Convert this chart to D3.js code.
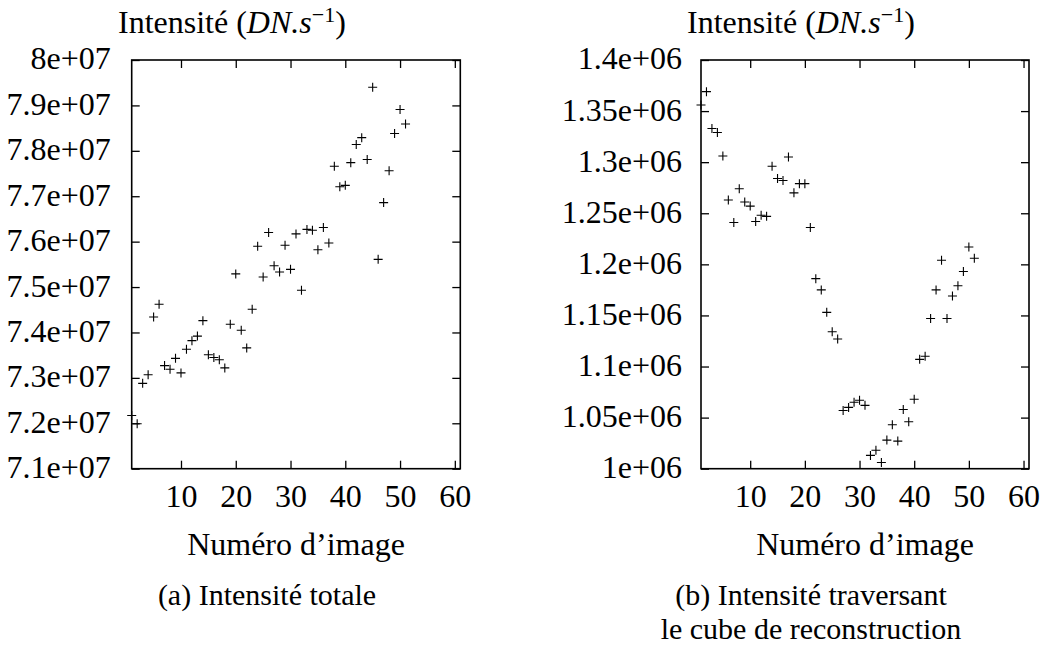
<!DOCTYPE html>
<html>
<head>
<meta charset="utf-8">
<script src="https://cdn.jsdelivr.net/npm/d3@7"></script>
<style>
  html, body { margin: 0; padding: 0; background: #fff; }
  svg text { font-family: "Liberation Serif", "Times New Roman", Times, "DejaVu Serif", serif; fill: #000; }
</style>
</head>
<body>
<svg id="chart" width="1052" height="646"></svg>
<script>
// ---- Data ----
const imageNumbers = d3.range(1, 52); // 1..51
const totalIntensity = [
  7.217e7, 7.199e7, 7.288e7, 7.307e7, 7.434e7, 7.462e7, 7.327e7, 7.319e7, 7.343e7, 7.311e7,
  7.363e7, 7.382e7, 7.392e7, 7.426e7, 7.351e7, 7.345e7, 7.340e7, 7.322e7, 7.418e7, 7.529e7,
  7.405e7, 7.366e7, 7.451e7, 7.590e7, 7.522e7, 7.620e7, 7.547e7, 7.533e7, 7.592e7, 7.539e7,
  7.617e7, 7.493e7, 7.627e7, 7.625e7, 7.582e7, 7.631e7, 7.597e7, 7.766e7, 7.721e7, 7.724e7,
  7.774e7, 7.814e7, 7.829e7, 7.781e7, 7.940e7, 7.561e7, 7.686e7, 7.756e7, 7.838e7, 7.891e7,
  7.859e7
];
const cubeIntensity = [
  1.356e6, 1.369e6, 1.333e6, 1.329e6, 1.306e6, 1.263e6, 1.241e6, 1.274e6, 1.261e6, 1.257e6,
  1.242e6, 1.248e6, 1.247e6, 1.296e6, 1.284e6, 1.282e6, 1.305e6, 1.270e6, 1.279e6, 1.279e6,
  1.236e6, 1.186e6, 1.175e6, 1.153e6, 1.134e6, 1.127e6, 1.057e6, 1.060e6, 1.065e6, 1.067e6,
  1.062e6, 1.013e6, 1.018e6, 1.006e6, 1.028e6, 1.043e6, 1.027e6, 1.058e6, 1.046e6, 1.068e6,
  1.107e6, 1.110e6, 1.147e6, 1.175e6, 1.204e6, 1.147e6, 1.169e6, 1.179e6, 1.193e6, 1.217e6,
  1.206e6
];
const xTicks = [10, 20, 30, 40, 50, 60];
const xTickLabels = ["10", "20", "30", "40", "50", "60"];
const yTicksA = [7.1e7, 7.2e7, 7.3e7, 7.4e7, 7.5e7, 7.6e7, 7.7e7, 7.8e7, 7.9e7, 8e7];
const yTickLabelsA = ["7.1e+07", "7.2e+07", "7.3e+07", "7.4e+07", "7.5e+07", "7.6e+07", "7.7e+07", "7.8e+07", "7.9e+07", "8e+07"];
const yTicksB = [1.0e6, 1.05e6, 1.1e6, 1.15e6, 1.2e6, 1.25e6, 1.3e6, 1.35e6, 1.4e6];
const yTickLabelsB = ["1e+06", "1.05e+06", "1.1e+06", "1.15e+06", "1.2e+06", "1.25e+06", "1.3e+06", "1.35e+06", "1.4e+06"];
const xDomain = [1, 61];
const yDomainA = [7.1e7, 8e7];
const yDomainB = [1.0e6, 1.4e6];
const xLabel = "Numéro d’image";
const captionA = ["(a) Intensité totale"];
const captionB = ["(b) Intensité traversant", "le cube de reconstruction"];

// ---- Drawing ----
const svg = d3.select("#chart");
const FONT = '"Liberation Serif", "Times New Roman", Times, "DejaVu Serif", serif';
const FS = 32;
const FS_CAP = 30;
const TICK = 8;

function panel(cfg) {
  const { left, right, top, bottom, xs, ys, yTicks, yLabels, titleX, captionLines, captionX } = cfg;
  const x = d3.scaleLinear().domain(xDomain).range([left, right]);
  const y = d3.scaleLinear().domain(cfg.yDomain).range([bottom, top]);
  const g = svg.append("g");

  const xFmt = d => xTickLabels[xTicks.indexOf(d)];
  const yFmt = d => yLabels[yTicks.indexOf(d)];

  const gb = g.append("g").attr("transform", `translate(0,${bottom})`)
    .call(d3.axisBottom(x).tickValues(xTicks).tickFormat(xFmt).tickSizeInner(-TICK).tickSizeOuter(0).tickPadding(16));
  const gt = g.append("g").attr("transform", `translate(0,${top})`)
    .call(d3.axisTop(x).tickValues(xTicks).tickFormat("").tickSizeInner(-TICK).tickSizeOuter(0));
  const gl = g.append("g").attr("transform", `translate(${left},0)`)
    .call(d3.axisLeft(y).tickValues(yTicks).tickFormat(yFmt).tickSizeInner(-TICK).tickSizeOuter(0).tickPadding(cfg.yPad));
  const gr = g.append("g").attr("transform", `translate(${right},0)`)
    .call(d3.axisRight(y).tickValues(yTicks).tickFormat("").tickSizeInner(-TICK).tickSizeOuter(0));

  [gb, gt, gl, gr].forEach(a => {
    a.attr("font-family", FONT).attr("font-size", FS);
    a.select(".domain").remove();
    a.selectAll(".tick line").attr("stroke", "#000").attr("stroke-width", 1.3);
    a.selectAll("text").attr("fill", "#000");
  });
  gl.selectAll("text").attr("dy", "0.28em");

  g.append("rect")
    .attr("x", left).attr("y", top)
    .attr("width", right - left).attr("height", bottom - top)
    .attr("fill", "none").attr("stroke", "#000").attr("stroke-width", 1.6);

  const s = 4.5;
  const pts = g.append("g").attr("stroke", "#000").attr("stroke-width", 1.1).attr("fill", "none");
  xs.forEach((n, i) => {
    const px = x(n), py = y(ys[i]);
    pts.append("path").attr("d", `M${px - s},${py}H${px + s}M${px},${py - s}V${py + s}`);
  });

  const t = g.append("text").attr("x", titleX).attr("y", 33)
    .attr("font-family", FONT).attr("font-size", FS);
  t.append("tspan").text("Intensité (");
  t.append("tspan").attr("font-style", "italic").text("DN.s");
  t.append("tspan").attr("font-size", 22).attr("dy", -11).text("−1");
  t.append("tspan").attr("dy", 11).text(")");

  g.append("text").attr("x", (left + right) / 2).attr("y", 555)
    .attr("font-family", FONT).attr("text-anchor", "middle").attr("font-size", FS).text(xLabel);

  captionLines.forEach((line, i) => {
    g.append("text").attr("x", captionX).attr("y", 605 + i * 34)
      .attr("font-family", FONT).attr("text-anchor", "middle").attr("font-size", FS_CAP).text(line);
  });
}

panel({
  left: 131.7, right: 460.3, top: 60, bottom: 468.7,
  xs: imageNumbers, ys: totalIntensity, yDomain: yDomainA,
  yTicks: yTicksA, yLabels: yTickLabelsA, yPad: 21,
  titleX: 118, captionLines: captionA, captionX: 267
});
panel({
  left: 701, right: 1029, top: 60, bottom: 468.7,
  xs: imageNumbers, ys: cubeIntensity, yDomain: yDomainB,
  yTicks: yTicksB, yLabels: yTickLabelsB, yPad: 19,
  titleX: 687, captionLines: captionB, captionX: 811
});
</script>
</body>
</html>
